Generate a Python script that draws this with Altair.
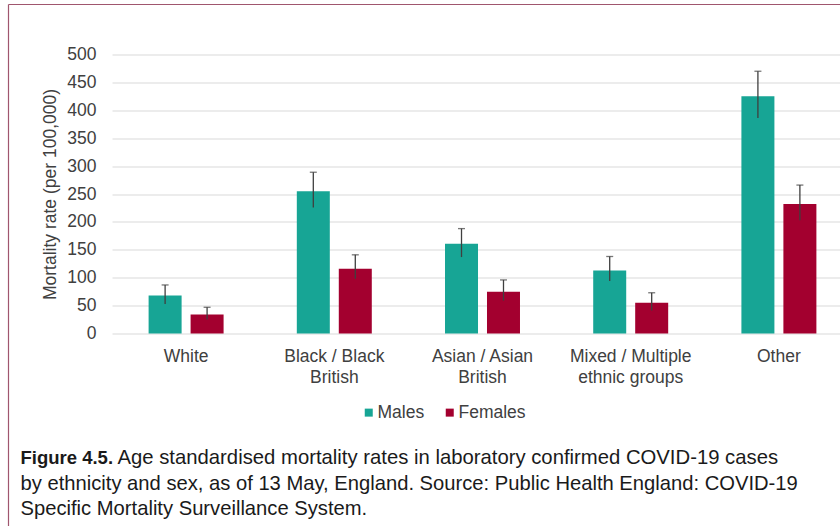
import altair as alt
import pandas as pd

groups = ["White", "Black / Black\nBritish", "Asian / Asian\nBritish",
          "Mixed / Multiple\nethnic groups", "Other"]
sexes = ["Males", "Females"]
males = [68, 255, 161, 113, 425]
males_lo = [53, 226, 137, 94, 386]
males_hi = [87, 289, 188, 138, 470]
females = [34, 116, 75, 55, 232]
females_lo = [25, 98, 59, 41, 203]
females_hi = [47, 141, 96, 73, 266]
y_ticks = [0, 50, 100, 150, 200, 250, 300, 350, 400, 450, 500]
colors = ["#17a595", "#a3002f"]

caption_bold = "Figure 4.5."
caption_line1 = "Age standardised mortality rates in laboratory confirmed COVID-19 cases"
caption_line2 = "by ethnicity and sex, as of 13 May, England. Source: Public Health England: COVID-19"
caption_line3 = "Specific Mortality Surveillance System."

rows = []
for i, g in enumerate(groups):
    rows.append({"group": g, "sex": "Males", "value": males[i], "lo": males_lo[i], "hi": males_hi[i]})
    rows.append({"group": g, "sex": "Females", "value": females[i], "lo": females_lo[i], "hi": females_hi[i]})
df = pd.DataFrame(rows)

FONT = "Liberation Sans"
W, H = 728, 279

x_axis = alt.Axis(title=None, labelExpr="split(datum.label, '\\n')", labelAngle=0,
                  domain=False, ticks=False, labelPadding=14, labelFontSize=17.5,
                  labelColor="#404040", labelLineHeight=21, labelFont=FONT)
x_scale = alt.Scale(range=[0, 741], paddingInner=0, paddingOuter=0)
xo_scale = alt.Scale(paddingInner=0.214, paddingOuter=0.872)

y_axis = alt.Axis(values=y_ticks, grid=True, gridColor="#d9d9d9", gridWidth=1, domain=False,
                  ticks=False, labelPadding=16, labelFontSize=17.5, labelColor="#404040",
                  labelOverlap=False,
                  labelFont=FONT, title="Mortality rate (per 100,000)", titleX=-62,
                  titleY=H / 2, titleAngle=270, titleAlign="center",
                  titleBaseline="middle", titleFontWeight="normal", titleFontSize=17.5,
                  titleColor="#404040", titleFont=FONT)
y_scale = alt.Scale(domain=[0, 500])


def xenc():
    return alt.X("group:N", sort=groups, scale=x_scale, axis=x_axis)


def xoenc():
    return alt.XOffset("sex:N", sort=sexes, scale=xo_scale)


bars = alt.Chart(df).mark_bar().encode(
    x=xenc(),
    xOffset=xoenc(),
    y=alt.Y("value:Q", scale=y_scale, axis=y_axis),
    color=alt.Color("sex:N", sort=sexes,
                    scale=alt.Scale(domain=sexes, range=colors),
                    legend=alt.Legend(title=None, orient="none", legendX=248, legendY=349,
                                      direction="horizontal", symbolType="square",
                                      symbolSize=64, symbolStrokeWidth=0, labelFontSize=17.5,
                                      labelColor="#404040", labelFont=FONT, columnPadding=16,
                                      labelOffset=0, padding=0)),
)

err = alt.Chart(df).mark_rule(color="#3f3f3f", strokeWidth=1.3).encode(
    x=xenc(), xOffset=xoenc(),
    y=alt.Y("lo:Q", scale=y_scale, axis=y_axis), y2="hi:Q",
)
caps = alt.Chart(df).mark_tick(color="#3f3f3f", size=7, thickness=1.3, orient="horizontal").encode(
    x=xenc(), xOffset=xoenc(),
    y=alt.Y("hi:Q", scale=y_scale, axis=y_axis),
)

cap_df = pd.DataFrame({"t": [caption_line2, caption_line3], "yy": [435, 460.5]})
border_df = pd.DataFrame({"k": [0]})

left_border = alt.Chart(border_df).mark_rule(color="#a0566e", strokeWidth=1.2).encode(
    x=alt.value(-103.5), y=alt.value(-50), y2=alt.value(H + 192.5))
top_border = alt.Chart(border_df).mark_rule(color="#a0566e", strokeWidth=1.2).encode(
    x=alt.value(-103.5), x2=alt.value(W), y=alt.value(-50))

bold_txt = alt.Chart(pd.DataFrame({"t": [caption_bold]})).mark_text(
    align="left", baseline="alphabetic", fontSize=18.5, fontWeight="bold", font=FONT, color="#1a1a1a"
).encode(x=alt.value(-91.5), y=alt.value(409.5), text="t:N")
line1_txt = alt.Chart(pd.DataFrame({"t": [caption_line1]})).mark_text(
    align="left", baseline="alphabetic", fontSize=20.3, font=FONT, color="#1a1a1a"
).encode(x=alt.value(5.5), y=alt.value(409.5), text="t:N")
lines_txt = alt.Chart(cap_df).mark_text(
    align="left", baseline="alphabetic", fontSize=20.2, font=FONT, color="#1a1a1a"
).encode(x=alt.value(-91.5), y=alt.Y("yy:Q", scale=None), text="t:N")

chart = alt.layer(bars, err, caps, left_border, top_border, bold_txt, line1_txt, lines_txt).properties(
    width=W, height=H,
    autosize=alt.AutoSizeParams(type="none"),
    padding={"left": 112, "top": 54.5, "right": 0, "bottom": 192.5},
    background="white",
).configure_view(stroke=None)

chart.save("out.html", embed_options={"renderer": "svg", "actions": False})
